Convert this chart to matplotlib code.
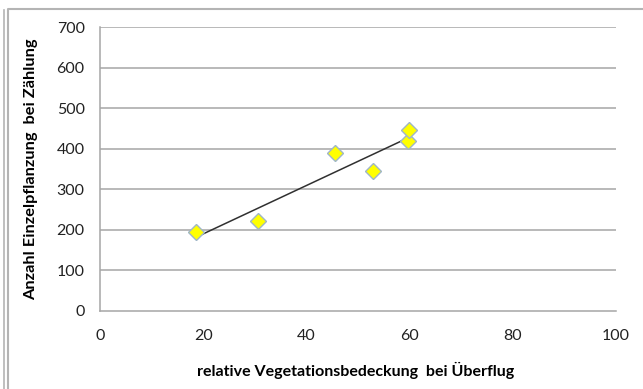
import numpy as np
import matplotlib
matplotlib.use("Agg")
import matplotlib.pyplot as plt
from matplotlib.lines import Line2D

# Vegetation cover at overflight (%) vs. number of single plants counted
cover = [18.6, 30.7, 45.5, 53.0, 59.6, 59.8]
plants = [194.5, 221.6, 389.0, 346.0, 420.0, 446.5]

x_ticks = [0, 20, 40, 60, 80, 100]
y_ticks = [0, 100, 200, 300, 400, 500, 600, 700]

plt.rcParams["font.family"] = ["Lato", "DejaVu Sans"]

W, H = 643, 389
fig = plt.figure(figsize=(W / 100, H / 100), dpi=100)

# outer frame lines
frame_col = "#b4b4b4"
fig.add_artist(Line2D([3.5 / W, 3.5 / W], [0, 1 - 10 / H], transform=fig.transFigure,
                      color=frame_col, lw=1.2))
fig.add_artist(Line2D([8 / W, 8 / W, 1], [0, 1 - 8.5 / H, 1 - 8.5 / H],
                      transform=fig.transFigure, color=frame_col, lw=1.5))

left, right = 100 / W, 616 / W
bottom, top = 1 - 310.7 / H, 1 - 27.3 / H
ax = fig.add_axes([left, bottom, right - left, top - bottom])

ax.set_xlim(x_ticks[0], x_ticks[-1])
ax.set_ylim(y_ticks[0], y_ticks[-1])
ax.set_xticks(x_ticks)
ax.set_yticks(y_ticks)

grid_col = "#a6a6a6"
for v in y_ticks[1:]:
    ax.axhline(v, color=grid_col, lw=1.1, zorder=1)
for s in ["top", "right"]:
    ax.spines[s].set_visible(False)
for s in ["left", "bottom"]:
    ax.spines[s].set_color(grid_col)
    ax.spines[s].set_linewidth(1.1)

ax.tick_params(length=0, labelsize=11.5, colors="#222222")
ax.tick_params(axis="x", pad=13)
ax.tick_params(axis="y", pad=11)

# linear trend line over the data range
slope, intercept = np.polyfit(cover, plants, 1)
xs = np.array([min(cover), max(cover)])
ax.plot(xs, slope * xs + intercept, color="#303030", lw=1.1, zorder=2)

ax.plot(cover, plants, linestyle="none", marker="D", markersize=8.5,
        markerfacecolor="#ffff00", markeredgecolor="#9fb6c8", markeredgewidth=1.0,
        zorder=3, clip_on=False)

ax.set_xlabel("relative Vegetationsbedeckung  bei Überflug", fontsize=11.5,
              fontweight="bold")
ax.xaxis.set_label_coords(0.495, -0.18)
ax.set_ylabel("Anzahl Einzelpflanzung  bei Zählung", fontsize=11.8,
              fontweight="bold", labelpad=13)

fig.savefig("out.png", dpi=100)
